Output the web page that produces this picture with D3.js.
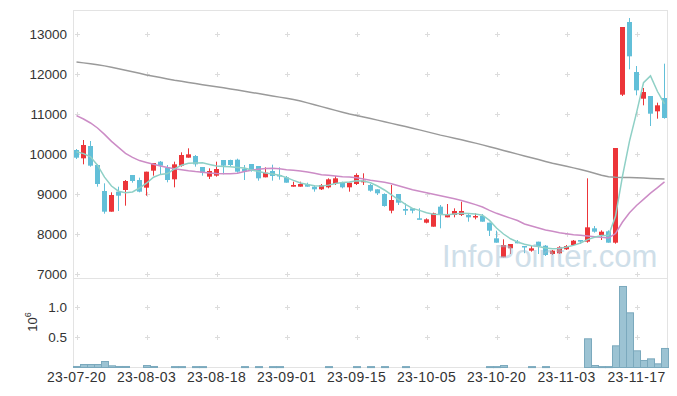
<!DOCTYPE html>
<html>
<head>
<meta charset="utf-8">
<script src="https://cdn.jsdelivr.net/npm/d3@7"></script>
<style>
  body { margin: 0; background: #fff; }
  svg { display: block; font-family: "Liberation Sans", Arial, sans-serif; }
</style>
</head>
<body>
<div id="chart"></div>
<script>
const dates = [
  "23-07-20","23-07-21","23-07-24","23-07-25","23-07-26","23-07-27","23-07-28","23-07-31",
  "23-08-01","23-08-02","23-08-03","23-08-04","23-08-07","23-08-08","23-08-09","23-08-10","23-08-11","23-08-14","23-08-16","23-08-17","23-08-18","23-08-21","23-08-22","23-08-23","23-08-24","23-08-25","23-08-28","23-08-29","23-08-30","23-08-31",
  "23-09-01","23-09-04","23-09-05","23-09-06","23-09-07","23-09-08","23-09-11","23-09-12","23-09-13","23-09-14","23-09-15","23-09-18","23-09-19","23-09-20","23-09-21","23-09-22","23-09-25","23-09-26","23-09-27",
  "23-10-04","23-10-05","23-10-06","23-10-10","23-10-11","23-10-12","23-10-13","23-10-16","23-10-17","23-10-18","23-10-19","23-10-20","23-10-23","23-10-24","23-10-25","23-10-26","23-10-27","23-10-30","23-10-31",
  "23-11-01","23-11-02","23-11-03","23-11-06","23-11-07","23-11-08","23-11-09","23-11-10","23-11-13","23-11-14","23-11-15","23-11-16","23-11-17","23-11-20","23-11-21","23-11-22","23-11-23"
]

const openP = [10100,9892,10200,9725,9075,8558,9058,9100,9475,9350,9158,9583,9808,9658,9367,9708,9908,9950,9675,9433,9458,9850,9850,9858,9633,9750,9700,9417,9575,9475,
  9417,9183,9183,9242,9183,9117,9167,9250,9283,9167,9250,9292,9225,9117,9000,8583,9000,8625,8642,
  8392,8283,8183,8683,8417,8475,8475,8475,8417,8450,8283,7892,7417,7642,7808,7700,7583,7808,7708,
  7500,7517,7617,7725,7850,7808,8142,7975,8067,7783,11483,13300,12050,11383,11450,11067,11400]
const highP = [10125,10350,10325,9742,9267,9042,9183,9350,9475,9408,9558,9775,9825,9725,9808,10042,10142,9975,9675,9642,9808,9850,9858,9883,9725,9750,9700,9667,9733,9667,
  9450,9308,9308,9283,9225,9250,9392,9450,9308,9283,9517,9517,9250,9117,9017,9225,9000,8767,8642,
  8642,8392,8533,8725,8750,8642,8808,8517,8517,8500,8283,8083,7867,7750,7850,7700,7700,7808,7725,
  7600,7700,7725,7850,7850,9392,8200,8092,8092,10150,13175,13400,12200,11650,11450,11283,12258]
const lowP = [9875,9742,9683,9183,8508,8558,8575,8708,9283,9042,8958,9458,9475,9292,9167,9683,9908,9683,9458,9375,9433,9492,9700,9533,9350,9558,9333,9417,9333,9358,
  9283,9183,9183,9183,9058,9100,9142,9225,9142,9058,9225,9225,9058,8975,8683,8517,8725,8475,8517,
  8367,8267,8183,8142,8417,8417,8450,8308,8367,8308,7950,7783,7417,7500,7767,7520,7558,7500,7450,
  7475,7500,7600,7700,7750,7783,8033,7850,7783,7758,11450,12117,11467,11217,10700,10883,10883]
const closeP = [9908,10225,9708,9250,8558,8975,8958,9325,9325,9058,9558,9775,9708,9350,9742,9975,9992,9742,9533,9575,9625,9708,9725,9558,9558,9575,9392,9533,9450,9458,
  9283,9225,9250,9183,9117,9225,9367,9392,9167,9283,9475,9333,9083,9017,8700,8850,8783,8583,8583,
  8367,8367,8517,8500,8475,8575,8575,8417,8450,8308,8083,7783,7725,7750,7767,7667,7642,7700,7475,
  7583,7667,7700,7833,7808,8167,8058,8058,7783,10150,13175,12442,11592,11550,11008,11217,10900]

const volume = [17000,50000,50000,50000,100000,28000,17000,17000,0,0,33000,17000,0,0,15000,15000,0,15000,15000,0,
  0,0,0,0,15000,0,15000,0,15000,15000,0,0,0,0,0,0,15000,0,0,0,
  15000,0,15000,0,15000,0,0,15000,0,0,0,0,0,0,0,0,0,0,0,15000,
  15000,33000,0,0,0,15000,0,15000,0,0,0,0,0,478000,33000,15000,15000,361000,1350000,911000,
  278000,117000,144000,61000,317000]

const ma5 = [10058,10010,9930,9720,9420,9200,9070,9030,9050,9150,9270,9420,9490,9510,9630,9720,9770,9775,9780,9740,
  9700,9690,9680,9665,9650,9600,9560,9525,9500,9470,9410,9340,9275,9240,9205,9200,9222,9260,9285,9300,
  9330,9325,9280,9200,9100,8980,8860,8740,8640,8590,8530,8495,8490,8480,8500,8520,8510,8500,8470,8340,
  8150,8000,7880,7800,7745,7705,7690,7648,7630,7640,7675,7715,7775,7860,7920,7960,7965,8443,9445,10322,
  11028,11782,11953,11562,11253]
const ma20 = [10958,10875,10775,10650,10490,10315,10165,10015,9915,9835,9790,9745,9700,9660,9630,9605,9580,9560,9545,9525,
  9512,9508,9505,9517,9560,9595,9620,9640,9642,9633,9608,9592,9575,9550,9517,9483,9467,9450,9433,9425,
  9408,9375,9342,9317,9292,9258,9205,9155,9108,9070,9033,8995,8958,8917,8880,8835,8788,8735,8675,8592,
  8517,8458,8396,8338,8250,8200,8150,8100,8067,8033,8008,7983,7967,7950,7933,7917,7900,8012,8300,8533,
  8712,8867,9020,9158,9304]
const ma60 = [12300,12278,12255,12233,12203,12168,12133,12096,12057,12017,11976,11943,11910,11877,11845,11817,11788,11760,11733,11707,
  11680,11654,11627,11599,11570,11540,11511,11481,11452,11422,11393,11363,11325,11278,11231,11184,11138,11091,11045,11000,
  10962,10924,10885,10847,10807,10766,10725,10685,10644,10603,10559,10516,10472,10434,10396,10358,10315,10272,10228,10183,
  10136,10089,10043,9997,9952,9906,9861,9815,9770,9731,9692,9653,9614,9569,9520,9471,9429,9416,9414,9412,
  9409,9399,9390,9380,9372]

const priceTicks = [7000, 8000, 9000, 10000, 11000, 12000, 13000]
const volTicks = [500000, 1000000]
const dateTicks = dates.filter((d, i) => i % 10 === 0)

const width = 677
const height = 396
const plot = { left: 73, right: 668, top: 10, split: 278, bottom: 367 }

const upColor = "#ec3539"
const downColor = "#62bfd8"

const svg = d3.select("#chart").append("svg")
  .attr("width", width)
  .attr("height", height)

svg.append("rect").attr("width", width).attr("height", height).attr("fill", "#fff")

const x = d3.scaleBand()
  .domain(dates)
  .range([plot.left, plot.right])
  .padding(0)

const yPrice = d3.scaleLinear()
  .domain([6900, 13600])
  .range([plot.split, plot.top])

const yVol = d3.scaleLinear()
  .domain([0, 1483000])
  .range([plot.bottom, plot.split])

const cx = d => x(d) + x.bandwidth() / 2

// frame
const frame = svg.append("g").attr("stroke", "#e3e3e3").attr("fill", "none")
frame.append("line").attr("x1", plot.left).attr("x2", plot.right).attr("y1", plot.top + 0.5).attr("y2", plot.top + 0.5)
frame.append("line").attr("x1", plot.left).attr("x2", plot.right).attr("y1", plot.split + 0.5).attr("y2", plot.split + 0.5)
frame.append("line").attr("x1", plot.left).attr("x2", plot.right).attr("y1", plot.bottom + 0.5).attr("y2", plot.bottom + 0.5)
frame.append("line").attr("x1", plot.left + 0.5).attr("x2", plot.left + 0.5).attr("y1", plot.top).attr("y2", plot.bottom)
frame.append("line").attr("x1", plot.right - 0.5).attr("x2", plot.right - 0.5).attr("y1", plot.top).attr("y2", plot.bottom)

// grid crosses
const gridYs = priceTicks.map(yPrice).concat(volTicks.map(yVol))
const crosses = svg.append("g").attr("stroke", "#dcdcdc").attr("stroke-width", 1)
dateTicks.forEach(d => {
  gridYs.forEach(gy => {
    const px = Math.round(cx(d)) + 0.5
    const py = Math.round(gy) + 0.5
    crosses.append("path").attr("d", `M${px - 2.5},${py}h5M${px},${py - 2.5}v5`)
  })
})

// volume bars
svg.append("g")
  .selectAll("rect")
  .data(dates.map((d, i) => ({ d, v: volume[i] })).filter(e => e.v > 0))
  .join("rect")
    .attr("x", e => x(e.d) + 0.5)
    .attr("y", e => yVol(e.v) + 0.5)
    .attr("width", x.bandwidth())
    .attr("height", e => Math.max(1, yVol(0) - yVol(e.v)))
    .attr("fill", "#9cc3d3")
    .attr("stroke", "#7ba9bd")
    .attr("stroke-width", 1)

// candles
const candles = svg.append("g")
  .selectAll("g")
  .data(dates.map((d, i) => ({ d, o: openP[i], h: highP[i], l: lowP[i], c: closeP[i] })))
  .join("g")
    .attr("fill", e => e.c >= e.o ? upColor : downColor)
    .attr("stroke", e => e.c >= e.o ? upColor : downColor)

candles.append("line")
  .attr("x1", e => Math.floor(cx(e.d)) + 0.5)
  .attr("x2", e => Math.floor(cx(e.d)) + 0.5)
  .attr("y1", e => yPrice(e.h))
  .attr("y2", e => yPrice(e.l))
  .attr("stroke-width", 1)

candles.append("rect")
  .attr("x", e => x(e.d) + 1)
  .attr("width", x.bandwidth() - 2)
  .attr("y", e => yPrice(Math.max(e.o, e.c)))
  .attr("height", e => Math.max(1.5, Math.abs(yPrice(e.o) - yPrice(e.c))))
  .attr("stroke", "none")

// moving averages
const maLine = d3.line()
  .x((v, i) => cx(dates[i]))
  .y(v => yPrice(v))

svg.append("path").datum(ma60).attr("d", maLine)
  .attr("fill", "none").attr("stroke", "#9a9a9a").attr("stroke-width", 1.5)
svg.append("path").datum(ma20).attr("d", maLine)
  .attr("fill", "none").attr("stroke", "#cc8cc6").attr("stroke-width", 1.5)
svg.append("path").datum(ma5).attr("d", maLine)
  .attr("fill", "none").attr("stroke", "#8fd0c6").attr("stroke-width", 1.5)

// axes
const yAxis = svg.append("g")
  .attr("transform", `translate(${plot.left},0)`)
  .call(d3.axisLeft(yPrice).tickValues(priceTicks).tickSize(0).tickPadding(6).tickFormat(d3.format("d")))
yAxis.select(".domain").remove()

const vAxis = svg.append("g")
  .attr("transform", `translate(${plot.left},0)`)
  .call(d3.axisLeft(yVol).tickValues(volTicks).tickSize(0).tickPadding(6).tickFormat(d => (d / 1e6).toFixed(1)))
vAxis.select(".domain").remove()

const xAxis = svg.append("g")
  .attr("transform", `translate(0,${plot.bottom})`)
  .call(d3.axisBottom(x).tickValues(dateTicks).tickSize(0).tickPadding(5))
xAxis.select(".domain").remove()

svg.selectAll(".tick text")
  .attr("fill", "#333")
  .style("font-size", "13.5px")
  .style("font-family", "'Liberation Sans', Arial, sans-serif")

xAxis.selectAll(".tick text")
  .style("font-size", "14px")
  .style("letter-spacing", "0.4px")

const unit = svg.append("text")
  .attr("transform", "translate(37,322) rotate(-90)")
  .attr("text-anchor", "middle")
  .attr("fill", "#333")
  .style("font-size", "13px")
unit.append("tspan").text("10")
unit.append("tspan").attr("dy", -6).style("font-size", "9px").text("6")

// watermark
svg.append("text")
  .attr("x", 442)
  .attr("y", 267)
  .attr("fill", "rgb(160,192,212)")
  .attr("opacity", 0.5)
  .style("font-size", "31px")
  .style("font-family", "'Liberation Sans', Arial, sans-serif")
  .text("InfoPointer.com")
</script>
</body>
</html>
